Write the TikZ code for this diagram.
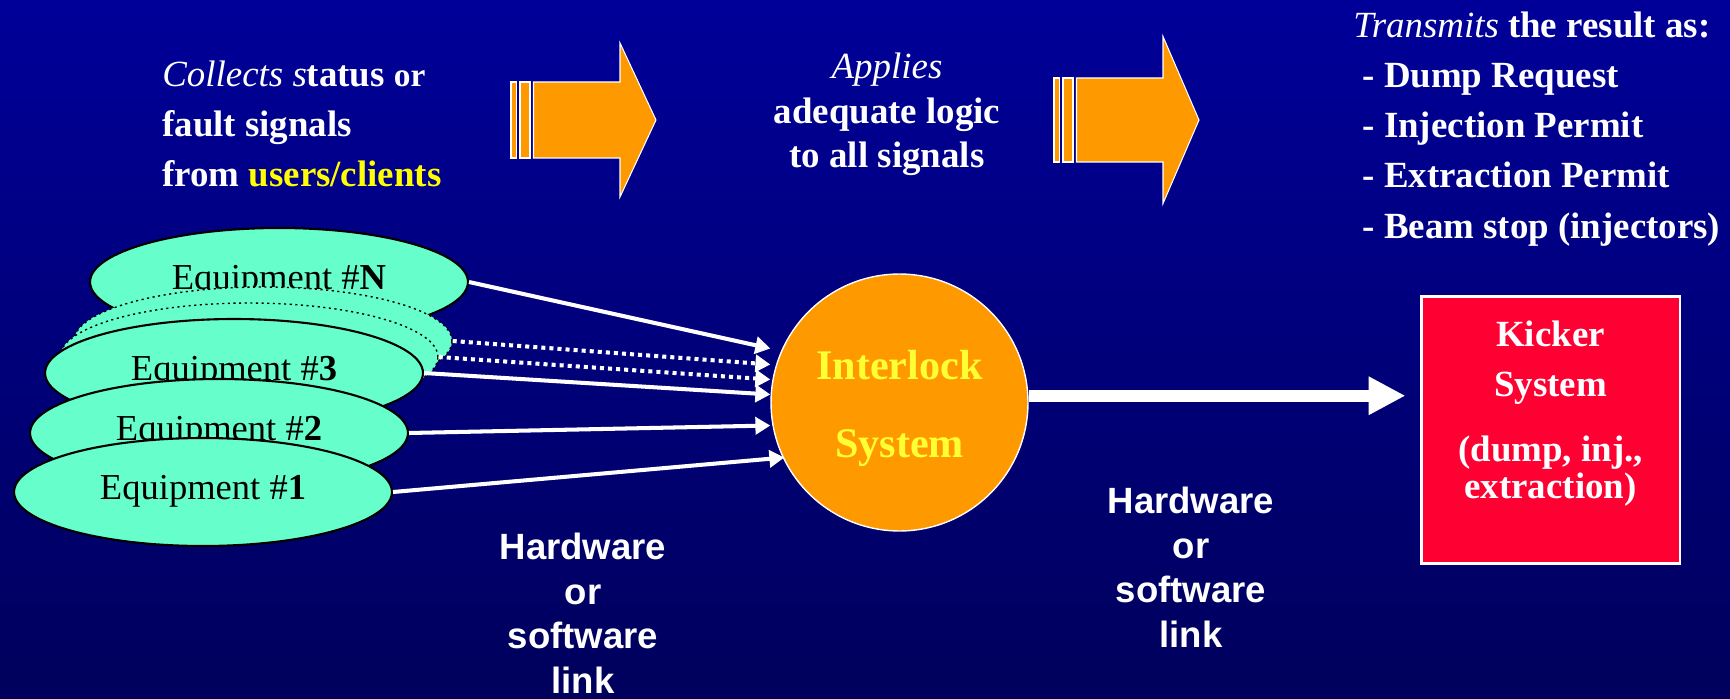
\documentclass[tikz,border=0pt]{standalone}
\usepackage{fontspec}
\setmainfont{Liberation Serif}
\setsansfont{Liberation Sans}
\usepackage{tikz}
\usetikzlibrary{shapes.geometric, arrows.meta, calc}
\tikzstyle{slide} = [x = .02cm, y = -.02cm]
\definecolor{bgTop}{RGB}{0,0,153}
\definecolor{bgMid}{RGB}{0,0,136}
\definecolor{bgBottom}{RGB}{0,0,92}
\definecolor{equipColor}{RGB}{102,255,204}
\definecolor{orangeColor}{RGB}{255,153,0}
\definecolor{kickerColor}{RGB}{255,0,51}
\definecolor{clientYellow}{RGB}{255,255,0}
\definecolor{interlockYellow}{RGB}{255,255,51}
\tikzstyle{equipStyle} = [ellipse, draw=black, line width=1.2pt, fill=equipColor, minimum width=7.56cm, minimum height=2.16cm, inner sep=0pt, text height=1.05em, text depth=.22em, font=\fontsize{20.8}{25}\selectfont]
\tikzstyle{hiddenEquip} = [equipStyle, dotted, line width=.8pt]
\tikzstyle{signalLine} = [white, line width=2.3pt, -{Triangle[length=8.5pt, width=9.7pt]}]
\tikzstyle{hiddenLine} = [signalLine, dash pattern=on 2.3pt off 2.3pt]
\tikzstyle{bigArrow} = [white, line width=6.8pt, -{Triangle[length=21pt, width=20.5pt]}, shorten >=8pt]
\tikzstyle{slideText} = [white, inner sep=0pt, font=\fontsize{21}{28.5}\selectfont\bfseries]
\tikzstyle{linkText} = [white, inner sep=0pt, align=center, font=\fontsize{20.8}{25.3}\selectfont\sffamily\bfseries]
\tikzstyle{blockArrowStyle} = [fill=orangeColor, draw=white, line width=.6pt]
\tikzstyle{interlockStyle} = [circle, fill=orangeColor, draw=white, line width=.8pt, minimum size=5.14cm, inner sep=0pt, align=center, text=interlockYellow, font=\fontsize{24}{44.4}\selectfont\bfseries]
\tikzstyle{kickerStyle} = [rectangle, fill=kickerColor, draw=white, line width=1.7pt, minimum width=5.18cm, minimum height=5.36cm]
% hollow arrow: two thin bars, then the body and the head
% #1 left x, #2 middle y, #3 half body height, #4 half head height
\newcommand{\blockArrow}[4]{
  \filldraw [blockArrowStyle] (#1, #2 - #3) rectangle (#1 + 5.5, #2 + #3);
  \filldraw [blockArrowStyle] (#1 + 9, #2 - #3) rectangle (#1 + 19, #2 + #3);
  \filldraw [blockArrowStyle] (#1 + 22.5, #2 - #3) -- (#1 + 109, #2 - #3) -- (#1 + 109, #2 - #4)
    -- (#1 + 145, #2) -- (#1 + 109, #2 + #4) -- (#1 + 109, #2 + #3) -- (#1 + 22.5, #2 + #3) -- cycle;
}

\begin{document}
\begin{tikzpicture}[slide]
  \useasboundingbox (0, 0) rectangle (1730, 699);
  \shade [top color=bgTop, middle color=bgMid, bottom color=bgBottom] (0, 0) rectangle (1730, 699);

  % headings (base = last line)
  \node[slideText, align=left, anchor=base west] (collects) at (162, 187)
    {{\mdseries\itshape Collects s}tatus {\fontsize{19}{28.5}\selectfont or}\\fault signals\\from \textcolor{clientYellow}{users/clients}};
  \node[slideText, align=center, anchor=base, font=\fontsize{21}{25.6}\selectfont\bfseries] (applies) at (887, 168)
    {{\mdseries\itshape Applies}\\adequate logic\\ to all signals};
  \node[slideText, align=left, anchor=base west] (transmits) at (1353, 238)
    {{\mdseries\itshape Transmits} the result as:\\\ - Dump Request\\\ - Injection Permit\\\ - Extraction Permit\\\ - Beam stop (injectors)};

  \blockArrow{511}{120}{38}{77}
  \blockArrow{1054}{120}{42}{83.5}

  % equipment stack, back to front
  \node[equipStyle] (eqN) at (279, 282) {Equipment \#\textbf{N}};
  \node[hiddenEquip] (eqA) at (263, 341) {};
  \node[hiddenEquip] (eqB) at (249, 357) {};
  \node[equipStyle] (eq3) at (234, 373) {Equipment \#\textbf{3}};
  \node[equipStyle] (eq2) at (219, 433) {Equipment \#\textbf{2}};
  \node[equipStyle] (eq1) at (203, 492) {Equipment \#\textbf{1}};

  % the strut pushes the two lines a little below the centre
  \node[interlockStyle] (ilk) at (899.5, 402.5) {\rule{0pt}{23pt}Interlock\\System};
  \node[kickerStyle] (kicker) at (1550.5, 430) {};
  \node[slideText, align=center, font=\fontsize{21}{21}\selectfont\bfseries] (kickerText) at (1550.5, 413.5)
    {Kicker\\[7.5pt]System\\[16pt](dump, inj.,\\extraction)};

  % signals into the interlock
  \foreach \eq/\dx/\dy in {eqN/0/-54, eq3/0/-8, eq2/0/23, eq1/14/55}
    \draw[signalLine] (\eq.east) -- ($(ilk.west) + (\dx, \dy)$);
  \draw[hiddenLine] (eqA.east) -- ($(ilk.west) + (0, -38)$);
  \draw[hiddenLine] (eqB.east) -- ($(ilk.west) + (0, -23)$);

  \draw[bigArrow] (ilk.3) -- (ilk.3 -| kicker.west);

  \node[linkText, anchor=base] (linkLeft) at (583, 693) {Hardware\\or\\software\\link};
  \node[linkText, anchor=base] (linkRight) at (1191, 647) {Hardware\\or\\software\\link};
\end{tikzpicture}
\end{document}
